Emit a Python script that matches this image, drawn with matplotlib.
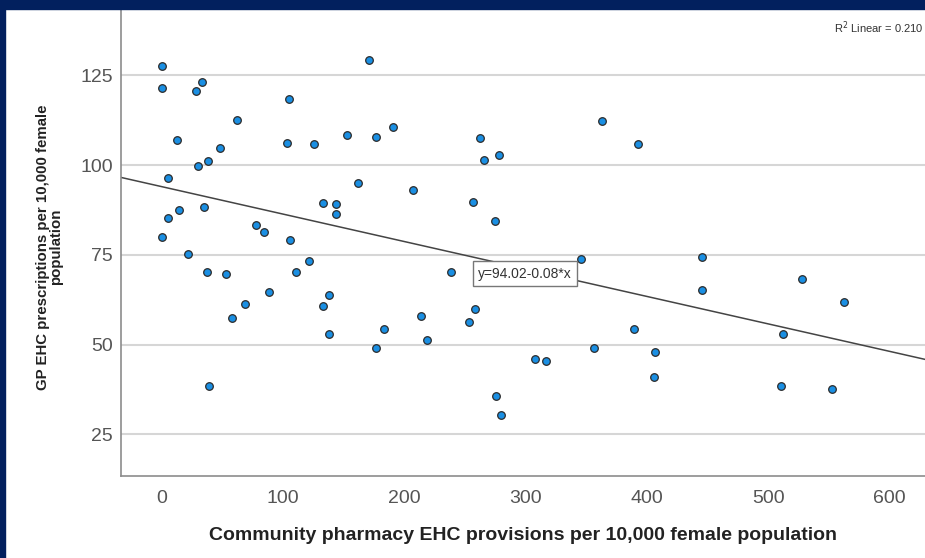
import matplotlib
matplotlib.use("Agg")
import matplotlib.pyplot as plt
from matplotlib.patches import Rectangle
import numpy as np

plt.rcParams['font.family'] = ['Liberation Sans', 'DejaVu Sans']

# community pharmacy EHC provisions per 10,000 female population
pharmacy = [0, 0, 28, 33, 105, 62.3, 12.6, 48, 103, 38.2, 29.7, 4.9, 34.6, 14.3, 5.2, 0,
            77.5, 84.6, 105.5, 21.7, 121.3, 37.4, 52.8, 110.5, 171.2, 125.8, 153, 176.7,
            190.7, 362.5, 262.7, 265.5, 277.6, 162.1, 207, 133, 143.7, 143.7, 256.7, 274.8,
            238.5, 345.2, 392.2, 445.3, 527.8, 88.7, 68.9, 58.2, 39.2, 137.9, 132.7, 138.2,
            177, 183.3, 213.8, 218.5, 253.1, 258.1, 307.6, 316.6, 275.1, 280, 355.9, 389.2,
            406.2, 405.9, 445.5, 562, 511.7, 510.4, 552.2]
# GP EHC prescriptions per 10,000 female population
gp = [127.7, 121.5, 120.7, 123.2, 118.5, 112.7, 107, 104.8, 106.2, 101.1, 99.8, 96.5, 88.3,
      87.5, 85.2, 80.0, 83.2, 81.3, 79.1, 75.2, 73.3, 70.3, 69.6, 70.1, 129.3, 106.0, 108.5,
      107.9, 110.7, 112.4, 107.5, 101.3, 102.9, 95.0, 93.1, 89.4, 89.2, 86.4, 89.6, 84.4,
      70.3, 73.8, 105.9, 74.5, 68.3, 64.6, 61.4, 57.3, 38.5, 63.8, 60.8, 52.9, 49.0, 54.3,
      57.9, 51.3, 56.2, 59.8, 46.0, 45.5, 35.7, 30.4, 49.2, 54.5, 48.0, 41.0, 65.2, 61.9,
      53.1, 38.6, 37.7]
# fit line as drawn (label rounds slope to 0.08)
intercept, slope = 94.02, -0.0765
fit_label = "y=94.02-0.08*x"
r2_label = "R$^2$ Linear = 0.210"
xticks = [0, 100, 200, 300, 400, 500, 600]
yticks = [25, 50, 75, 100, 125]

fig = plt.figure(figsize=(9.25, 5.58), dpi=100)
ax = fig.add_axes([0.1308, 0.1475, 0.8692, 0.8364])
xlim = (-33.5, 629); ylim = (13.5, 143.5)
ax.set_xlim(*xlim); ax.set_ylim(*ylim)

ax.set_yticks(yticks); ax.set_xticks(xticks)
ax.yaxis.grid(True, color="#d6d6d6", lw=1.5); ax.set_axisbelow(True)
for s in ["top", "right"]: ax.spines[s].set_visible(False)
for s in ["left", "bottom"]: ax.spines[s].set_color("#8c8c8c"); ax.spines[s].set_linewidth(1.2)
ax.tick_params(length=0, labelsize=14, labelcolor="#555555")
ax.tick_params(axis="y", pad=6); ax.tick_params(axis="x", pad=10)

xs = np.array(xlim)
ax.plot(xs, intercept + slope * xs, color="#444444", lw=1.1, zorder=2)
ax.scatter(pharmacy, gp, s=30, color="#1a8fe3", edgecolor="#2b2b2b", linewidth=0.9, zorder=3)

ax.text(260.8, 69.8, fit_label, ha="left", va="center", fontsize=10, color="#333333", zorder=4,
        bbox=dict(boxstyle="square,pad=0.4", fc="white", ec="#777777", lw=1))
fig.text(0.998, 0.95, r2_label, ha="right", va="center", fontsize=8, color="#333333")

ax.set_xlabel("Community pharmacy EHC provisions per 10,000 female population",
              fontsize=14, fontweight="bold", color="#222222", labelpad=15)
ax.set_ylabel("GP EHC prescriptions per 10,000 female\npopulation",
              fontsize=10.8, fontweight="bold", color="#222222", linespacing=0.95)
ax.yaxis.set_label_coords(-0.072, 0.49)

# navy slide frame
fig.patches.append(Rectangle((0, 1 - 9 / 558), 1, 9 / 558, transform=fig.transFigure, color="#02205e", zorder=10))
fig.patches.append(Rectangle((0, 0), 5 / 925, 1, transform=fig.transFigure, color="#02205e", zorder=10))

fig.savefig("out.png", dpi=100)
